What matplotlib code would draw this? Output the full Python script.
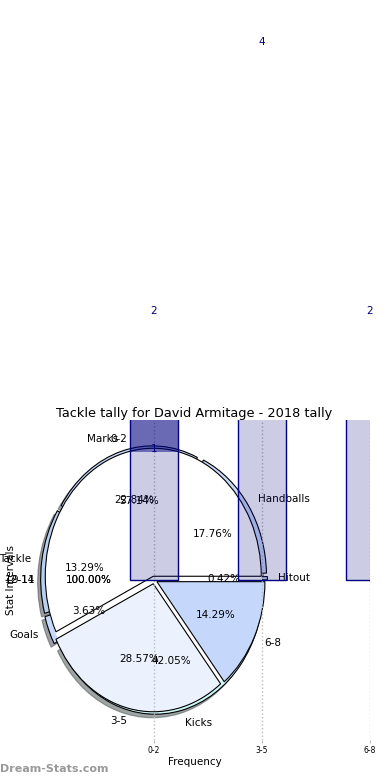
import matplotlib
matplotlib.use("Agg")
import matplotlib.pyplot as plt
import numpy as np

# ---- data ----
stat_labels = ["Hitout", "Handballs", "Marks", "Tackle", "Goals", "Kicks"]
stat_values = [0.42, 17.76, 22.84, 13.29, 3.63, 42.05]
stat_colors = ["#c6d9fb", "#c6d9fb", "#c6d9fb", "#b9cfee", "#c6d9fb", "#d0fafa"]

interval_labels = ["0-2", "3-5", "6-8"]
interval_values = [4, 2, 1]
interval_colors = ["#ffffff", "#ebf1fd", "#c5d8fb"]

extra_labels = ["9-11", "12-14"]
extra_values = [1, 1]

bar_categories = ["0-2", "3-5", "6-8"]
bar_values = [2, 4, 2]
bar_second = [1]

title = "Tackle tally for David Armitage - 2018 tally"

fig = plt.figure(figsize=(3.9, 7.8), dpi=100)
ax = fig.add_axes([19 / 390, 40 / 780, 351 / 390, 320 / 780])

fs = 7.5
ep = dict(edgecolor="black", linewidth=0.8)

# stats pie (underneath)
ax.pie(stat_values, labels=stat_labels, colors=stat_colors,
       explode=[0.05] * len(stat_values), autopct="%1.2f%%", shadow=True,
       wedgeprops=ep, textprops=dict(fontsize=fs))

# single-wedge pies
for lab, val in zip(extra_labels, extra_values):
    ax.pie([val], labels=[lab], colors=["#ffffff"], autopct="%1.2f%%",
           wedgeprops=dict(edgecolor="none"), textprops=dict(fontsize=fs))

# interval pie
ax.pie(interval_values, labels=interval_labels, colors=interval_colors,
       explode=[0.03] * len(interval_values), autopct="%1.2f%%",
       wedgeprops=ep, textprops=dict(fontsize=fs))

# bars
x = np.arange(len(bar_categories))
ax.bar(x, bar_values, width=0.45, color="#000080", alpha=0.2, zorder=3)
ax.bar(x, bar_values, width=0.45, fill=False, edgecolor="#000080",
       linewidth=1.0, zorder=3)
ax.bar(x[:1], bar_values[:1], bottom=bar_second, width=0.45,
       color="#000080", alpha=0.48, zorder=3, linewidth=0)
for xi, v in zip(x, bar_values):
    ax.text(xi, v * 1.05, str(v), ha="center", va="center", color="#000080",
            fontsize=fs, clip_on=False)
ax.text(x[0], bar_second[0] * 1.02, str(bar_second[0]), ha="center",
        va="center", color="#000080", fontsize=fs, clip_on=False)

ax.set_aspect("auto")
ax.set_xlim(-1.25, 2.0)
ax.set_ylim(-1.25, 1.25)
ax.set_frame_on(False)
ax.set_xticks(x)
ax.set_xticklabels(bar_categories, fontsize=5.5)
ax.set_yticks([])
ax.tick_params(axis="x", length=2, color="#bbbbbb", pad=2)
ax.grid(axis="x", linestyle=":", color="#bbbbbb", linewidth=1.0, zorder=2)
ax.set_xlabel("Frequency", fontsize=fs, labelpad=2)
ax.set_ylabel("Stat Intervals", fontsize=fs, labelpad=2)
ax.set_title(title, fontsize=9.3, pad=2.5)

fig.text(0.0, 0.008, "Dream-Stats.com", color="#999999", fontsize=8,
         fontweight="bold", ha="left", va="bottom")

fig.savefig("out.png", dpi=100)
